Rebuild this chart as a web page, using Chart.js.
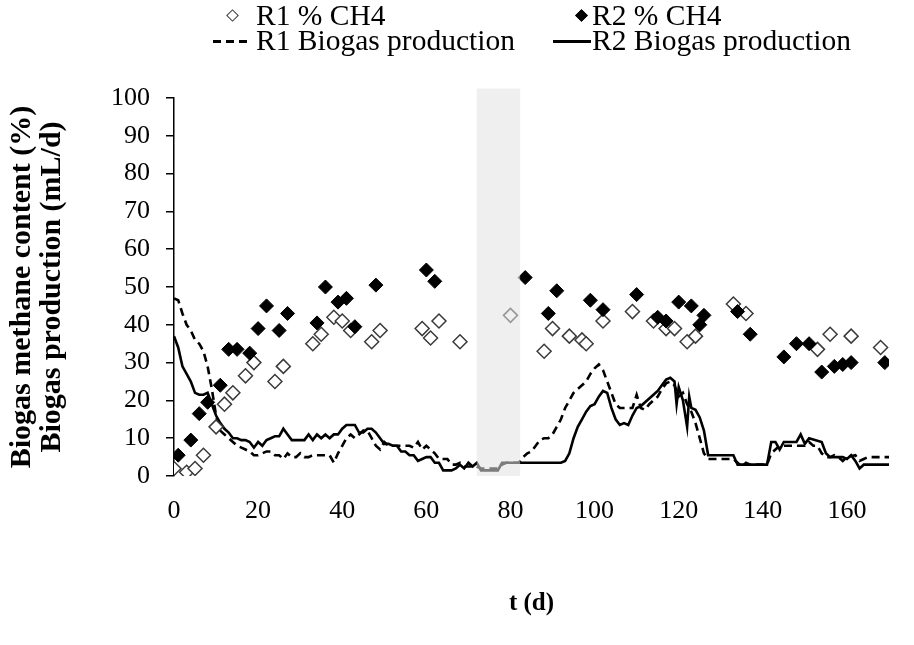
<!DOCTYPE html>
<html>
<head>
<meta charset="utf-8">
<script src="https://cdn.jsdelivr.net/npm/chart.js@4.4.1/dist/chart.umd.min.js"></script>
<style>
  body { margin: 0; background: #fff; }
  #wrap { position: relative; width: 914px; height: 645px; }
  #legend { position: absolute; left: 0; top: 0; width: 914px; height: 60px;
            font-family: "Liberation Serif", serif; font-size: 29.5px; color: #000; }
  .item { position: absolute; height: 30px; line-height: 30px; white-space: nowrap; }
  .item i { position: absolute; display: block; }
  .item span { position: absolute; top: 0; }
</style>
</head>
<body>
<div id="wrap">
  <canvas id="myChart" width="914" height="645"></canvas>
  <div id="legend"></div>
</div>
<script>
/*
    Methane content and daily biogas production of two reactors
*/

const seriesNames = ["R1 % CH4", "R2 % CH4", "R1 Biogas production", "R2 Biogas production"];

// % CH4 measurements
const r1Ch4Days = [0, 3, 5, 7, 10, 12, 14, 17, 19, 24, 26, 33, 35, 38, 40, 42, 47, 49, 59, 61, 63, 68,
                   80, 88, 90, 94, 97, 98, 102, 109, 114, 117, 119, 122, 124, 133, 136, 153, 156, 161, 168];
const r1Ch4 = [2, 1, 2, 5.5, 13, 19, 22, 26.5, 30, 25, 29, 35, 37.5, 42, 41, 38.5, 35.5, 38.5, 39, 36.5, 41, 35.5,
               42.5, 33, 39, 37, 36, 35, 41, 43.5, 41, 39, 39, 35.5, 37, 45.5, 43, 33.5, 37.5, 37, 34];

const r2Ch4Days = [1, 4, 6, 8, 11, 13, 15, 18, 20, 22, 25, 27, 34, 36, 39, 41, 43, 48, 60, 62,
                   83.5, 89, 91, 99, 102, 110, 115, 117, 120, 123, 125, 126, 134, 137, 145, 148, 151, 154, 157, 159, 161, 169];
const r2Ch4 = [5.5, 9.5, 16.5, 19.5, 24, 33.5, 33.5, 32.5, 39, 45, 38.5, 43, 40.5, 50, 46, 47, 39.5, 50.5, 54.5, 51.5,
               52.5, 43, 49, 46.5, 44, 48, 42, 41, 46, 45, 40, 42.5, 43.5, 37.5, 31.5, 35, 35, 27.5, 29, 29.5, 30, 30];

// biogas production (mL/d)
const r1GasDays = [0, 1, 2, 3, 4, 5, 6, 7, 8, 9, 10, 11, 12, 13, 14, 15, 16, 17, 18, 19, 20, 21, 22, 23, 24, 25, 26, 27, 28, 29,
                   30, 31, 32, 33, 37, 38, 39, 40, 41, 42, 43, 44, 45, 46, 47, 48, 49, 50, 51, 56, 57, 58, 59, 60, 61, 62, 63,
                   65, 66, 67, 68, 69, 72, 73, 77, 78, 79, 82, 83, 84, 85, 86, 87, 88, 89, 90, 91, 92, 93, 94, 95, 96,
                   97, 98, 99, 100, 101, 102, 103, 104, 105, 106, 109, 110, 111, 112, 113, 114, 115, 116, 117, 118, 119, 120,
                   121, 122, 123, 124, 125, 126, 127, 133, 134, 135, 136, 137, 141, 142, 143, 144, 150, 151, 152, 153, 154,
                   155, 156, 157, 158, 159, 160, 162, 163, 164, 165, 170];
const r1Gas = [47, 46.5, 43, 40, 38.5, 36, 35, 33, 29, 23, 16, 12, 11, 10, 9, 8, 7.5, 7, 6.5, 5.5, 5.5, 6, 6.5, 6.5, 5.5, 5.5, 4.5, 6, 5, 5,
               6, 5, 5, 5.5, 5.5, 3.5, 6, 8, 10, 11, 10, 11, 12, 12, 10, 8, 7, 9, 8, 8, 7.5, 9, 7, 8, 7, 6, 4.5,
               4.5, 3, 3, 3.5, 2.5, 2.5, 2, 2, 3, 3.5, 3.5, 5, 6, 6.5, 8, 9.5, 10, 10, 11, 13, 15, 18, 20, 22, 23,
               24, 25, 27, 28.5, 29.5, 28, 25, 22, 19, 18, 18, 21.5, 18, 17.5, 19, 20, 21, 23, 24.5, 25, 24, 21,
               22, 19, 17, 14, 10, 6, 4.5, 4.5, 3.5, 2.5, 3.5, 3, 3, 6, 7, 8, 8, 9, 8, 8, 6,
               5, 5, 5.5, 5, 4, 5, 5.5, 4, 4.5, 5, 5];

const r2GasDays = [0, 1, 2, 3, 4, 5, 6, 7, 8, 9, 10, 11, 12, 13, 14, 15, 16, 17, 18, 19, 20, 21, 22, 23, 24, 25, 26, 27, 28, 31,
                   32, 33, 34, 35, 36, 37, 38, 39, 40, 41, 43, 44, 45, 46, 47, 48, 49, 50, 51, 52, 53, 54, 55, 56, 57, 58, 59,
                   60, 61, 62, 63, 64, 66, 67, 68, 69, 70, 71, 72, 73, 77, 78, 92, 93, 94, 95, 96, 97, 98, 99, 100, 101, 102,
                   103, 104, 105, 106, 107, 108, 109, 110, 111, 112, 113, 114, 115, 116, 117, 118, 119, 119.5, 120, 121, 122,
                   122.5, 123, 124, 125, 126, 127, 133, 134, 141, 142, 143, 144, 145, 148, 149, 150, 151, 154, 155, 156, 159,
                   160, 161, 162, 163, 164, 170];
const r2Gas = [37, 34, 29, 27, 25, 22, 21.5, 21.5, 22, 19, 16, 14, 12.5, 11.5, 10, 10, 9.5, 9.5, 9, 7.5, 9, 8, 9.5, 10, 10.5, 10.5, 12.5, 11, 9.5, 9.5,
               11, 9.5, 11, 10, 11, 10, 11, 11, 12.5, 13.5, 13.5, 11.5, 11.5, 12.5, 12.5, 11.5, 10, 8.5, 8.5, 8, 8, 6.5, 6.5, 5.5, 5.5, 4, 4.5,
               5, 5, 3.5, 3.5, 1.5, 1.5, 2, 3, 2, 3.5, 2.5, 3.5, 1.5, 1.5, 3.5, 3.5, 4, 6, 10, 13, 15, 17, 18.5, 19, 21, 22.5,
               22, 18, 15, 13.5, 14, 13.5, 16, 18, 18.5, 19.5, 20.5, 21.5, 22.5, 24, 25.5, 26, 25, 19, 23.5, 20, 13,
               21, 18, 17.5, 15.5, 12, 5.5, 5.5, 3, 3, 9, 9, 7, 9, 9, 11, 8.5, 10, 9, 6, 5, 5,
               4.5, 5.5, 4, 2, 3, 3];

// reactor stop period, shaded
const idleDays = [72, 82.3];
const idleTop = 102.5;

const xTicks = [0, 20, 40, 60, 80, 100, 120, 140, 160];

const toXY = (days, vals) => days.map((d, i) => ({ x: d, y: vals[i] }));

const serif = "'Liberation Serif', 'Times New Roman', serif";

// light grey overlay over the stop period (lines underneath come out grey)
const idleBand = {
    id: "idleBand",
    afterDatasetsDraw(chart) {
        const { ctx, scales: { x, y } } = chart;
        const x0 = x.getPixelForValue(idleDays[0]);
        const x1 = x.getPixelForValue(idleDays[1]);
        const y0 = y.getPixelForValue(idleTop);
        const y1 = y.getPixelForValue(0);
        ctx.save();
        ctx.fillStyle = "rgba(225, 225, 225, 0.55)";
        ctx.fillRect(x0, y0, x1 - x0, y1 - y0);
        ctx.restore();
    }
};

const ctx = document.getElementById("myChart");

const myChart = new Chart(ctx, {
    type: "scatter",
    data: {
        datasets: [
            {
                label: seriesNames[0],
                data: toXY(r1Ch4Days, r1Ch4),
                pointStyle: "rectRot",
                pointRadius: 7,
                backgroundColor: "#ffffff",
                borderColor: "#3a3a3a",
                borderWidth: 1.5,
                order: 1
            },
            {
                label: seriesNames[1],
                data: toXY(r2Ch4Days, r2Ch4),
                pointStyle: "rectRot",
                pointRadius: 7,
                backgroundColor: "#000000",
                borderColor: "#000000",
                borderWidth: 1,
                order: 0
            },
            {
                label: seriesNames[2],
                type: "line",
                data: toXY(r1GasDays, r1Gas),
                borderColor: "#000000",
                borderWidth: 2.6,
                borderDash: [8, 5],
                pointRadius: 0,
                tension: 0,
                fill: false,
                order: 3
            },
            {
                label: seriesNames[3],
                type: "line",
                data: toXY(r2GasDays, r2Gas),
                borderColor: "#000000",
                borderWidth: 2.6,
                pointRadius: 0,
                tension: 0,
                fill: false,
                order: 2
            }
        ]
    },
    options: {
        responsive: false,
        animation: false,
        layout: { padding: { left: 0, right: 25, top: 98, bottom: 0 } },
        scales: {
            x: {
                type: "linear",
                min: 0,
                max: 170,
                afterBuildTicks: scale => { scale.ticks = xTicks.map(v => ({ value: v })); },
                afterFit: scale => { scale.height = 169; },
                grid: { display: false, drawTicks: false },
                border: { display: false },
                ticks: { padding: 20, color: "#000", font: { family: serif, size: 26 } },
                title: {
                    display: true,
                    text: "t (d)",
                    color: "#000",
                    font: { family: serif, size: 25, weight: "bold" },
                    padding: { top: 0, bottom: 26 }
                }
            },
            y: {
                min: 0,
                max: 100,
                afterFit: scale => { scale.width = 174; },
                ticks: { stepSize: 10, padding: 16, color: "#000", font: { family: serif, size: 26 } },
                grid: { drawOnChartArea: false, tickLength: 8, color: "#000", lineWidth: 1.5 },
                border: { display: true, color: "#000", width: 1.5 },
                title: {
                    display: true,
                    text: ["Biogas methane content (%)", "Biogas production (mL/d)"],
                    color: "#000",
                    font: { family: serif, size: 30, weight: "bold", lineHeight: 1.0 },
                    padding: { top: 7, bottom: 0 }
                }
            }
        },
        plugins: {
            legend: { display: false },
            tooltip: { enabled: false }
        }
    },
    plugins: [idleBand]
});

// two-row legend above the plot: symbol position, then text start
const legendSlots = [
    { top: 0, mark: 232, text: 256, kind: "open" },
    { top: 0, mark: 581, text: 592, kind: "filled" },
    { top: 25, mark: 213, text: 256, kind: "dash" },
    { top: 25, mark: 553, text: 592, kind: "solid" }
];
const legendEl = document.getElementById("legend");
legendSlots.forEach((slot, i) => {
    const item = document.createElement("div");
    item.className = "item";
    item.style.top = slot.top + "px";
    item.style.left = "0px";
    const mark = document.createElement("i");
    if (slot.kind === "open" || slot.kind === "filled") {
        Object.assign(mark.style, {
            width: "7px", height: "7px", left: (slot.mark - 4.5) + "px", top: "11px", transform: "rotate(45deg)",
            border: slot.kind === "open" ? "1.2px solid #3a3a3a" : "1.2px solid #000",
            background: slot.kind === "open" ? "#fff" : "#000"
        });
    } else {
        Object.assign(mark.style, {
            width: "38px", height: "2.6px", left: slot.mark + "px", top: "15px",
            background: slot.kind === "dash"
                ? "repeating-linear-gradient(to right, #000 0 8px, transparent 8px 13px)"
                : "#000"
        });
    }
    item.appendChild(mark);
    const txt = document.createElement("span");
    txt.style.left = slot.text + "px";
    txt.textContent = seriesNames[i];
    item.appendChild(txt);
    legendEl.appendChild(item);
});
</script>
</body>
</html>
